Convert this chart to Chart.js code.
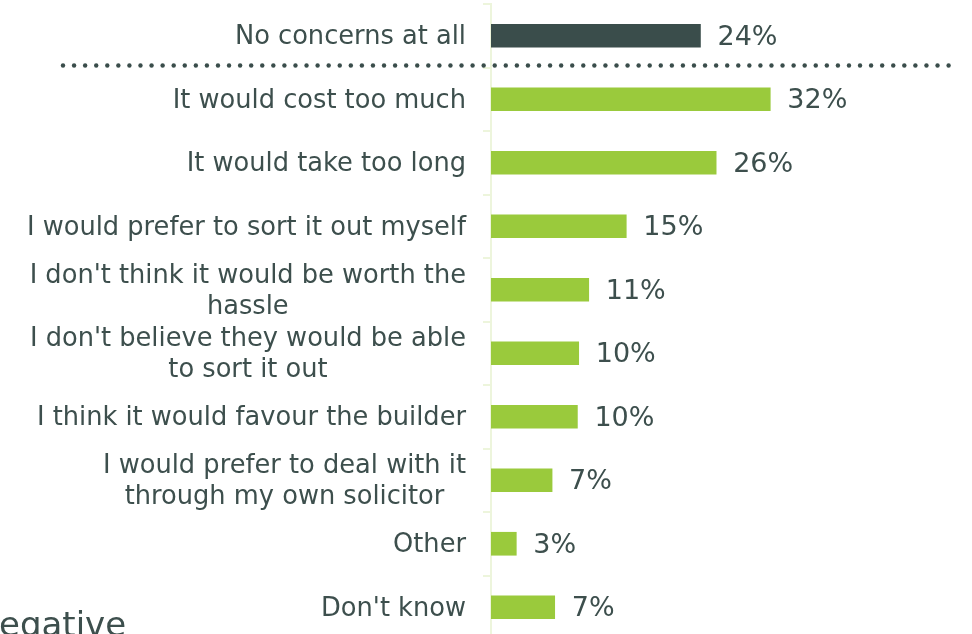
<!DOCTYPE html>
<html>
<head>
<meta charset="utf-8">
<script src="https://cdn.jsdelivr.net/npm/chart.js@4/dist/chart.umd.min.js"></script>
<style>
  html, body { margin: 0; padding: 0; background: #ffffff; overflow: hidden; }
  #wrap { position: relative; width: 972px; height: 640px; }
</style>
</head>
<body>
<div id="wrap"><canvas id="c" width="972" height="640"></canvas></div>
<script>
const categories = [
  "No concerns at all",
  "It would cost too much",
  "It would take too long",
  "I would prefer to sort it out myself",
  ["I don't think it would be worth the", "hassle"],
  ["I don't believe they would be able", "to sort it out"],
  "I think it would favour the builder",
  ["I would prefer to deal with it", "through my own solicitor"],
  "Other",
  "Don't know"
];
const values = [24, 32, 25.8, 15.5, 11.2, 10.05, 9.9, 7.0, 2.9, 7.3];
const valueLabels = ["24%", "32%", "26%", "15%", "11%", "10%", "10%", "7%", "3%", "7%"];
const barColors = ["#3a4d4b", "#9aca3c", "#9aca3c", "#9aca3c", "#9aca3c", "#9aca3c", "#9aca3c", "#9aca3c", "#9aca3c", "#9aca3c"];

const textColor = "#3d4f4d";
const labelFont = "25.7px 'DejaVu Sans'";
const valueFont = "27px 'DejaVu Sans'";

const decor = {
  id: 'decor',
  afterDraw(chart) {
    const ctx = chart.ctx;
    const y = chart.scales.y;
    const x = chart.scales.x;
    ctx.save();
    ctx.font = labelFont;
    ctx.fillStyle = textColor;
    ctx.textBaseline = 'middle';
    const lineH = 31;
    categories.forEach((lab, i) => {
      const lines = Array.isArray(lab) ? lab : [lab];
      const cy = y.getPixelForValue(i) + 2;
      const widths = lines.map(l => ctx.measureText(l).width);
      const maxW = Math.max(...widths);
      const right = 466;
      const center = right - maxW / 2;
      lines.forEach((l, k) => {
        const ly = cy + (k - (lines.length - 1) / 2) * lineH;
        ctx.textAlign = 'center';
        ctx.fillText(l, center, ly);
      });
    });
    ctx.font = valueFont;
    ctx.textAlign = 'left';
    values.forEach((v, i) => {
      const px = x.getPixelForValue(v);
      const py = y.getPixelForValue(i);
      ctx.fillText(valueLabels[i], px + 17, py + 2);
    });
    const sepY = (y.getPixelForValue(0) + y.getPixelForValue(1)) / 2 - 2;
    ctx.fillStyle = "#3a4d4b";
    for (let dx = 63; dx <= 956; dx += 11.07) {
      ctx.beginPath();
      ctx.arc(dx, sepY, 2.2, 0, Math.PI * 2);
      ctx.fill();
    }
    ctx.font = "34px 'DejaVu Sans'";
    ctx.fillStyle = textColor;
    ctx.textBaseline = 'alphabetic';
    ctx.textAlign = 'left';
    const nW = ctx.measureText("N").width;
    ctx.fillText("Negative", -nW - 1, 636);
    ctx.restore();
  }
};

new Chart(document.getElementById('c'), {
  type: 'bar',
  data: {
    labels: categories,
    datasets: [{
      data: values,
      backgroundColor: barColors,
      borderWidth: 0,
      barThickness: 23
    }]
  },
  options: {
    indexAxis: 'y',
    responsive: false,
    animation: false,
    layout: { padding: { top: 4, bottom: 1, left: 0, right: 1 } },
    plugins: { legend: { display: false }, tooltip: { enabled: false } },
    scales: {
      x: {
        display: false,
        min: 0,
        max: 55
      },
      y: {
        afterFit(scale) { scale.width = 491; },
        grid: {
          offset: true,
          drawOnChartArea: false,
          drawTicks: true,
          tickLength: 8,
          color: "#edf5dc",
          lineWidth: 2
        },
        border: { display: true, color: "#edf5dc", width: 2 },
        ticks: { display: false }
      }
    }
  },
  plugins: [decor]
});
</script>
</body>
</html>
